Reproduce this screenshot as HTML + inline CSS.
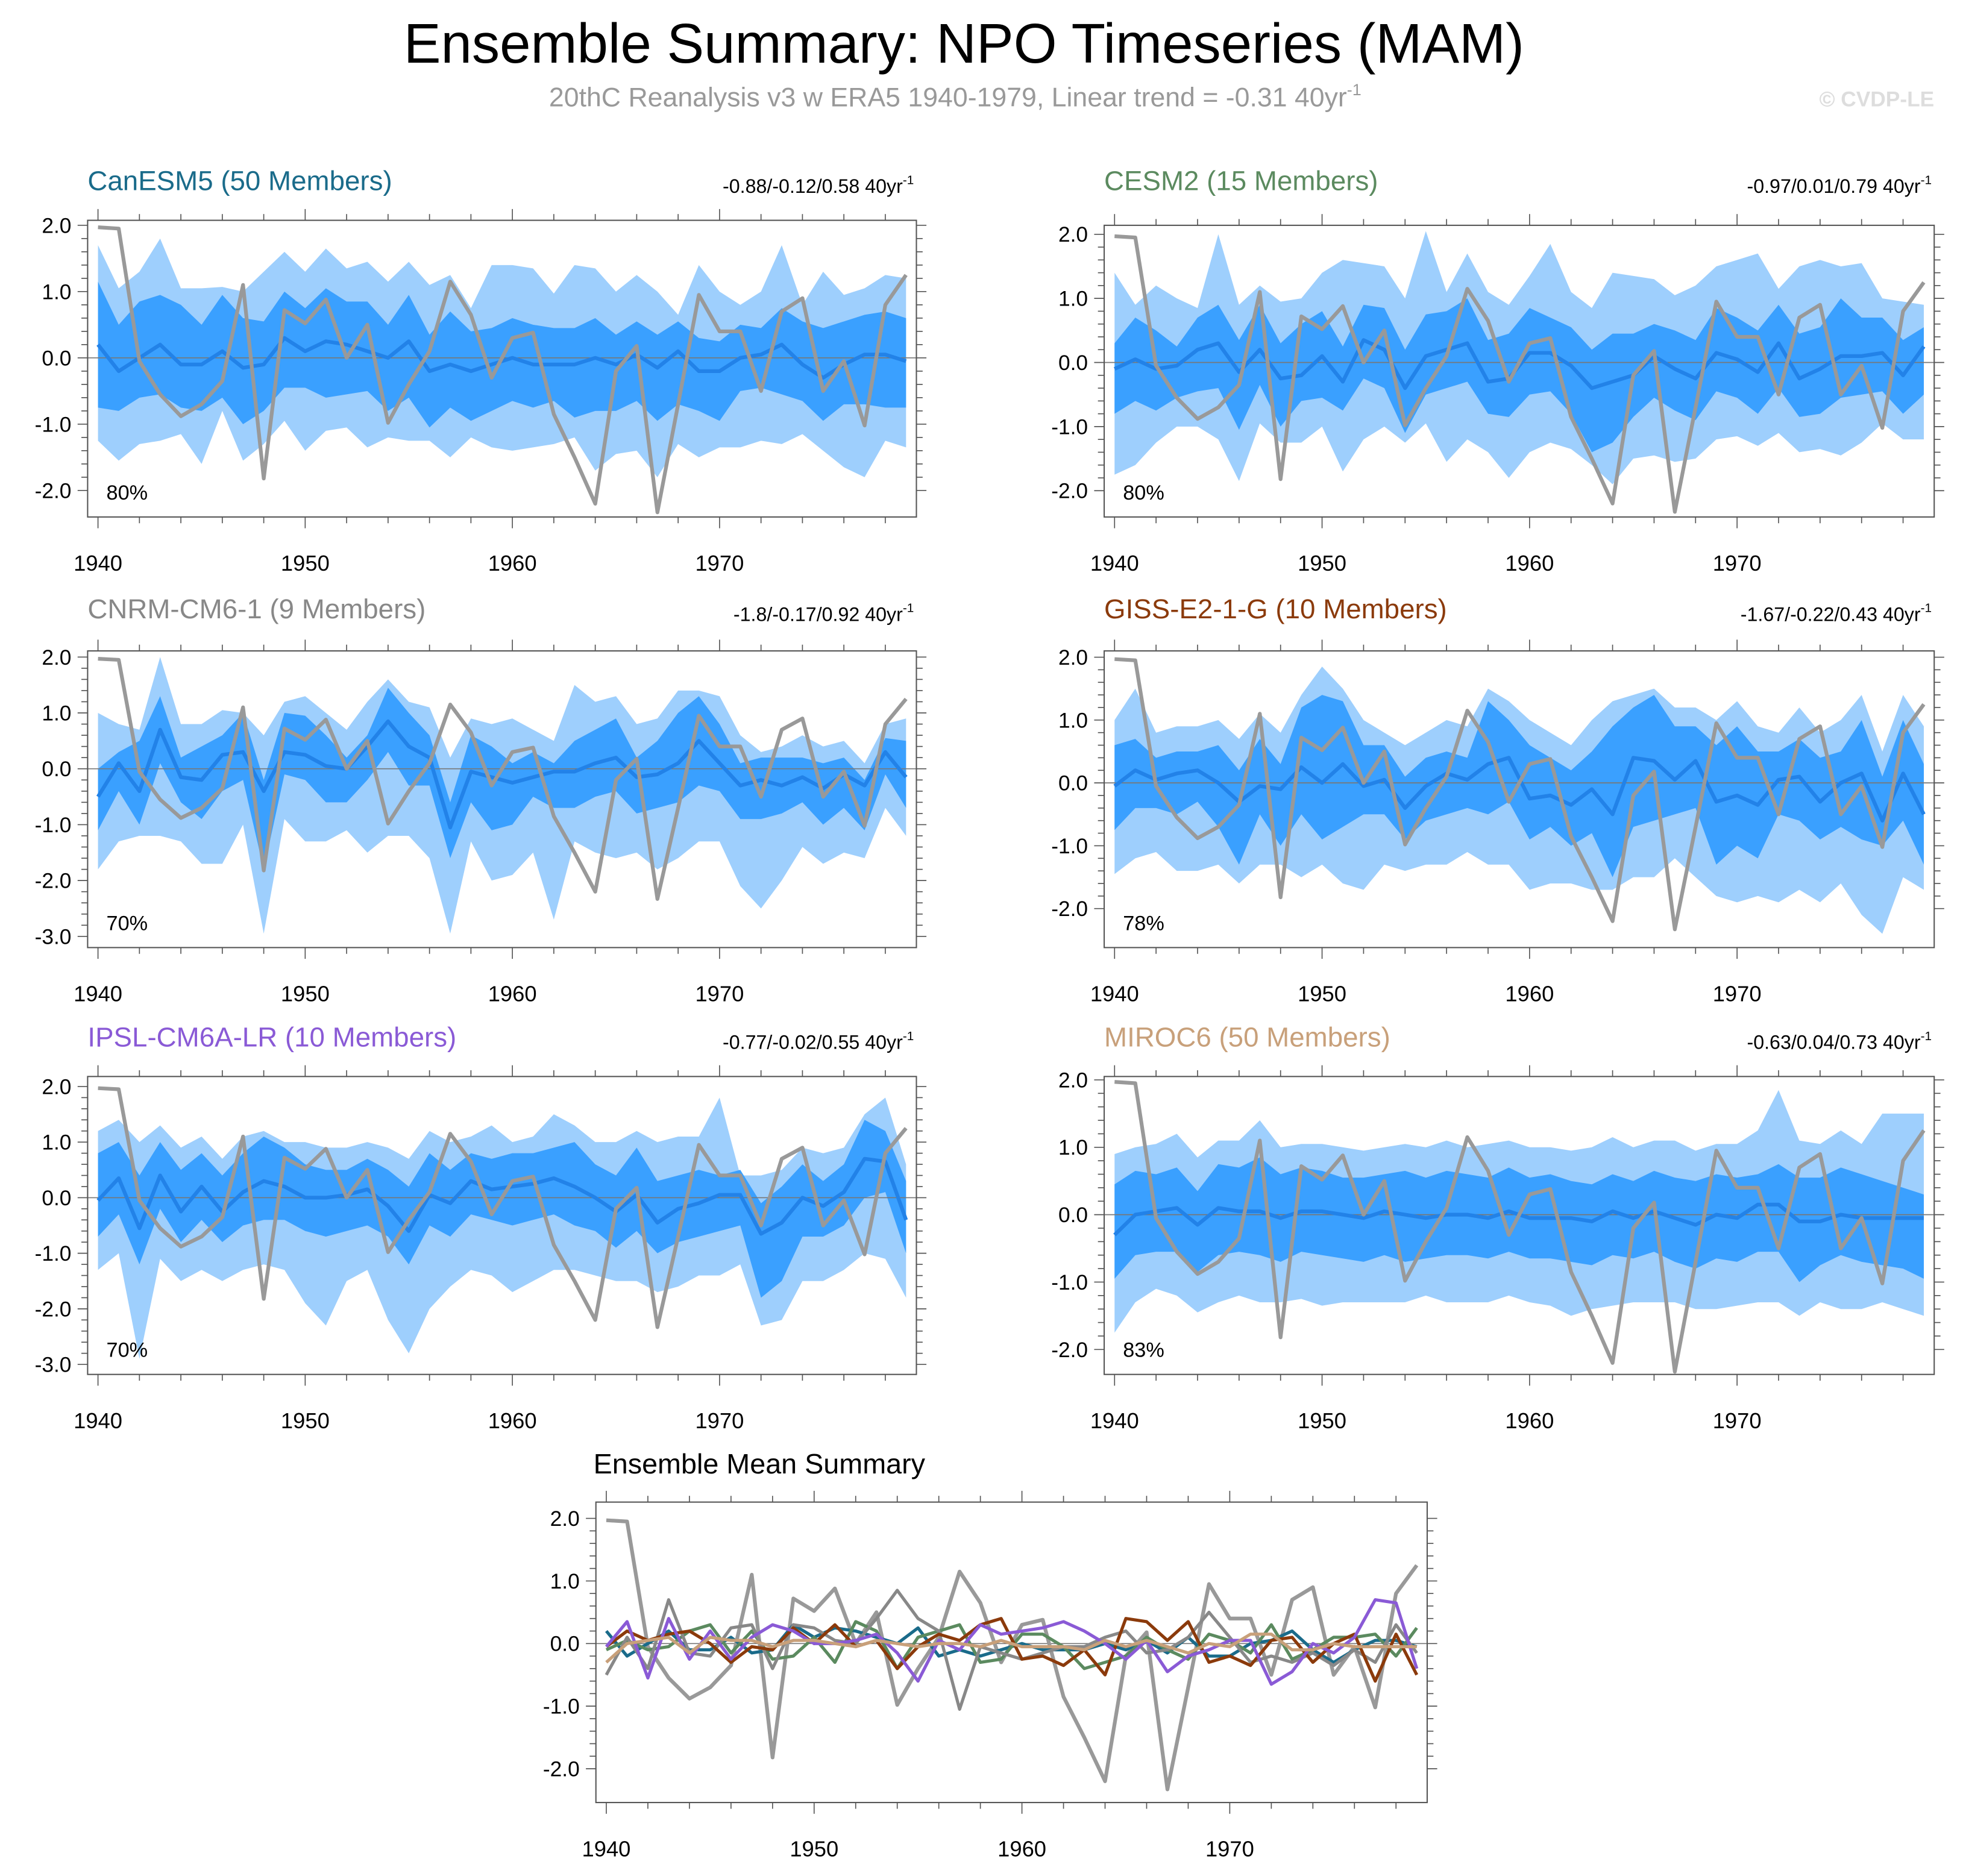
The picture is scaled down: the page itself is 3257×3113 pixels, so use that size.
<!DOCTYPE html>
<html><head><meta charset="utf-8"><style>
html,body{margin:0;padding:0;background:#fff;}
svg{display:block;font-family:"Liberation Sans",sans-serif;}
</style></head><body>
<svg id="chart" width="3257" height="3113" viewBox="0 0 1568 1498.7" preserveAspectRatio="none" xmlns="http://www.w3.org/2000/svg">
<rect width="1568" height="1499" fill="#fff"/>
<text x="770" y="50" font-size="44.5" text-anchor="middle" fill="#000">Ensemble Summary: NPO Timeseries (MAM)</text>
<text x="763" y="85" font-size="21.5" text-anchor="middle" fill="#999">20thC Reanalysis v3 w ERA5 1940-1979, Linear trend = -0.31 40yr<tspan dy="-9" font-size="13">-1</tspan></text>
<text x="1545" y="85" font-size="17" font-weight="bold" text-anchor="end" fill="#ddd">© CVDP-LE</text>
<g id="plots"></g>
</svg>
<script>
const years = [];
for (let y = 1940; y <= 1979; y++) years.push(y);
const obs = [1.97,1.95,-0.05,-0.55,-0.88,-0.7,-0.35,1.1,-1.82,0.72,0.52,0.88,0.0,0.5,-0.98,-0.4,0.1,1.15,0.65,-0.3,0.3,0.38,-0.85,-1.5,-2.2,-0.2,0.18,-2.33,-0.7,0.95,0.4,0.4,-0.5,0.7,0.9,-0.5,-0.05,-1.02,0.8,1.25];

const modelNames = ["CanESM5 (50 Members)","CESM2 (15 Members)","CNRM-CM6-1 (9 Members)","GISS-E2-1-G (10 Members)","IPSL-CM6A-LR (10 Members)","MIROC6 (50 Members)"];
const modelColors = ["#1a6b8a","#5b8a5f","#888888","#8b3a0b","#8a5ad6","#c8a07a"];
const trendTexts = ["-0.88/-0.12/0.58","-0.97/0.01/0.79","-1.8/-0.17/0.92","-1.67/-0.22/0.43","-0.77/-0.02/0.55","-0.63/0.04/0.73"];
const pctLabels = ["80%","80%","70%","78%","70%","83%"];

const mean1 = [0.2,-0.2,0,0.2,-0.1,-0.1,0.1,-0.15,-0.1,0.3,0.1,0.25,0.2,0.1,0,0.25,-0.2,-0.1,-0.2,-0.1,0,-0.1,-0.1,-0.1,0,-0.1,0.05,-0.15,0.1,-0.2,-0.2,0,0.05,0.2,-0.1,-0.3,-0.1,0.05,0.05,-0.05];
const p75_1 = [1.15,0.5,0.85,0.95,0.8,0.5,0.95,0.6,0.55,1.0,0.75,1.05,0.85,0.85,0.5,0.95,0.35,0.7,0.4,0.45,0.6,0.5,0.45,0.45,0.6,0.35,0.55,0.35,0.55,0.3,0.25,0.5,0.45,0.75,0.55,0.45,0.55,0.65,0.7,0.6];
const p25_1 = [-0.75,-0.8,-0.6,-0.55,-0.75,-0.8,-0.6,-1.0,-0.8,-0.45,-0.45,-0.6,-0.55,-0.5,-0.8,-0.6,-1.05,-0.75,-0.95,-0.8,-0.65,-0.75,-0.65,-0.9,-0.8,-0.8,-0.65,-0.95,-0.7,-0.8,-0.95,-0.5,-0.45,-0.55,-0.65,-0.95,-0.7,-0.7,-0.75,-0.75];
const p90_1 = [1.7,1.05,1.3,1.8,1.05,1.05,1.07,1.0,1.3,1.6,1.3,1.65,1.35,1.45,1.15,1.45,1.1,1.25,0.75,1.4,1.4,1.35,0.97,1.4,1.35,1.0,1.25,1.0,0.65,1.4,1.0,0.8,1.0,1.7,0.8,1.3,0.95,1.05,1.25,1.2];
const p10_1 = [-1.25,-1.55,-1.3,-1.25,-1.15,-1.6,-0.8,-1.55,-1.3,-0.95,-1.4,-1.1,-1.05,-1.35,-1.2,-1.25,-1.25,-1.5,-1.2,-1.35,-1.4,-1.35,-1.3,-1.2,-1.7,-1.45,-1.4,-1.8,-1.3,-1.5,-1.35,-1.35,-1.25,-1.3,-1.15,-1.4,-1.65,-1.8,-1.25,-1.35];

const mean2 = [-0.1,0.05,-0.1,-0.05,0.2,0.3,-0.15,0.2,-0.25,-0.2,0.1,-0.3,0.35,0.2,-0.4,0.1,0.2,0.3,-0.3,-0.25,0.15,0.15,-0.05,-0.4,-0.3,-0.2,0.1,-0.1,-0.25,0.15,0.05,-0.15,0.3,-0.25,-0.1,0.1,0.1,0.15,-0.2,0.25];
const p75_2 = [0.3,0.7,0.5,0.25,0.7,0.9,0.35,0.9,0.3,0.6,0.8,0.25,0.9,0.85,0.2,0.75,0.8,1.0,0.35,0.45,0.85,0.7,0.55,0.2,0.45,0.45,0.6,0.5,0.35,0.85,0.7,0.5,0.9,0.45,0.55,1.0,0.7,0.7,0.35,0.55];
const p25_2 = [-0.8,-0.6,-0.75,-0.55,-0.45,-0.4,-1.05,-0.35,-1.0,-0.6,-0.55,-0.75,-0.25,-0.4,-1.1,-0.5,-0.4,-0.3,-0.8,-0.85,-0.5,-0.45,-0.8,-1.4,-1.25,-0.85,-0.55,-0.75,-0.9,-0.45,-0.55,-0.8,-0.4,-0.85,-0.8,-0.55,-0.5,-0.45,-0.8,-0.5];
const p90_2 = [1.4,0.9,1.2,1.0,0.85,2.0,0.9,1.2,0.95,1.0,1.4,1.6,1.55,1.5,1.0,2.05,1.1,1.7,1.1,0.9,1.35,1.85,1.1,0.85,1.4,1.35,1.3,1.05,1.2,1.5,1.6,1.7,1.15,1.5,1.6,1.5,1.55,1.0,0.95,0.9];
const p10_2 = [-1.75,-1.6,-1.25,-1.0,-1.0,-1.2,-1.85,-0.95,-1.25,-1.25,-1.0,-1.7,-1.2,-1.0,-1.25,-0.95,-1.55,-1.2,-1.4,-1.8,-1.4,-1.25,-1.35,-1.6,-1.9,-1.5,-1.45,-1.55,-1.5,-1.2,-1.15,-1.3,-1.1,-1.4,-1.35,-1.45,-1.25,-0.95,-1.2,-1.2];

const mean3 = [-0.5,0.1,-0.4,0.7,-0.15,-0.2,0.25,0.3,-0.4,0.3,0.25,0.05,0,0.4,0.85,0.4,0.2,-1.05,-0.05,-0.15,-0.25,-0.15,-0.05,-0.05,0.1,0.2,-0.15,-0.1,0.1,0.5,0.1,-0.3,-0.2,-0.3,-0.15,-0.35,-0.1,-0.3,0.3,-0.15];
const p75_3 = [0,0.3,0.5,1.3,0.2,0.4,0.6,1.0,-0.2,1.0,0.95,0.6,0.2,0.6,1.45,1.0,0.6,-0.6,0.6,0.4,0.1,0.3,0.1,0.5,0.7,0.9,0.2,0.5,1.0,1.3,0.8,0.1,0.2,0.2,0.2,0.1,0.2,-0.2,0.55,0.5];
const p25_3 = [-1.1,-0.4,-1.0,0.1,-0.6,-0.9,-0.4,-0.2,-1.8,-0.1,-0.2,-0.6,-0.6,-0.2,0.3,-0.3,-0.3,-1.6,-0.6,-1.1,-1.0,-0.5,-0.7,-0.7,-0.5,-0.4,-0.8,-0.7,-0.6,-0.3,-0.4,-0.9,-0.9,-0.8,-0.6,-1.0,-0.7,-1.1,-0.1,-0.7];
const p90_3 = [1.0,0.8,0.7,2.0,0.8,0.8,1.05,1.0,0.6,1.2,1.3,1.0,0.7,1.2,1.6,1.2,1.1,0.2,0.9,0.8,0.9,0.7,0.5,1.5,1.2,1.3,0.8,0.9,1.4,1.4,1.3,0.6,0.3,0.4,0.6,0.4,0.5,0.1,0.8,0.9];
const p10_3 = [-1.8,-1.3,-1.2,-1.2,-1.3,-1.7,-1.7,-1.0,-2.95,-0.9,-1.3,-1.3,-1.1,-1.5,-1.2,-1.2,-1.6,-2.95,-1.3,-2.0,-1.9,-1.5,-2.7,-1.3,-1.5,-1.6,-1.5,-1.8,-1.6,-1.3,-1.3,-2.1,-2.5,-2.0,-1.4,-1.7,-1.5,-1.6,-0.7,-1.2];

const mean4 = [-0.05,0.2,0.05,0.15,0.2,0,-0.3,-0.05,-0.1,0.25,0,0.3,-0.05,0.05,-0.4,-0.05,0.15,0.05,0.3,0.4,-0.25,-0.2,-0.35,-0.1,-0.5,0.4,0.35,0.05,0.35,-0.3,-0.2,-0.35,0.05,0.1,-0.3,0,0.15,-0.6,0.15,-0.5];
const p75_4 = [0.6,0.7,0.4,0.5,0.5,0.6,0.2,0.7,0.3,1.2,1.4,1.3,0.6,0.6,0.1,0.4,0.5,0.4,1.3,1.0,0.6,0.4,0.2,0.5,0.9,1.2,1.4,0.9,0.9,0.6,0.9,0.5,0.5,0.7,0.4,0.5,1.0,0.1,1.0,0.3];
const p25_4 = [-0.75,-0.4,-0.4,-0.5,-0.3,-0.7,-1.3,-0.5,-1.0,-0.5,-0.9,-0.7,-0.5,-0.5,-0.9,-0.6,-0.5,-0.4,-0.5,-0.3,-0.9,-0.7,-1.0,-0.8,-1.5,-0.7,-0.6,-0.5,-0.4,-1.3,-1.0,-1.2,-0.5,-0.6,-0.9,-0.7,-0.9,-1.0,-0.6,-1.3];
const p90_4 = [1.0,1.5,0.8,0.9,0.9,1.0,0.7,1.1,0.8,1.4,1.85,1.5,1.0,0.8,0.6,0.8,1.0,0.9,1.5,1.3,1.0,0.8,0.6,1.0,1.3,1.4,1.5,1.2,1.2,1.0,1.3,0.9,0.8,1.2,0.8,1.0,1.4,0.5,1.4,0.9];
const p10_4 = [-1.45,-1.2,-1.1,-1.4,-1.4,-1.3,-1.6,-1.3,-1.3,-1.5,-1.3,-1.6,-1.7,-1.3,-1.4,-1.3,-1.3,-1.1,-1.3,-1.3,-1.7,-1.6,-1.6,-1.7,-1.7,-1.5,-1.5,-1.2,-1.5,-1.8,-1.9,-1.8,-1.9,-1.7,-1.9,-1.6,-2.1,-2.4,-1.5,-1.7];

const mean5 = [-0.05,0.35,-0.55,0.4,-0.25,0.2,-0.25,0.1,0.3,0.2,0,0,0.05,0.15,-0.15,-0.6,0.05,-0.1,0.3,0.15,0.2,0.25,0.35,0.2,0,-0.25,0.05,-0.45,-0.2,-0.1,0.05,0.05,-0.65,-0.45,0,-0.15,0.1,0.7,0.65,-0.4];
const p75_5 = [0.8,1.0,0.4,1.0,0.5,0.8,0.4,0.8,1.1,0.9,0.6,0.5,0.5,0.7,0.5,0.2,0.8,0.5,0.8,0.7,0.8,0.8,0.9,1.0,0.6,0.4,0.9,0.3,0.4,0.5,0.4,0.5,-0.1,0.2,0.6,0.3,0.6,1.4,1.2,0.3];
const p25_5 = [-0.7,-0.3,-1.2,-0.2,-0.8,-0.4,-0.8,-0.5,-0.4,-0.4,-0.6,-0.7,-0.6,-0.5,-0.7,-1.2,-0.5,-0.7,-0.3,-0.4,-0.5,-0.4,-0.3,-0.5,-0.6,-0.9,-0.6,-1.0,-0.8,-0.7,-0.6,-0.5,-1.8,-1.5,-0.7,-0.7,-0.5,0,0.1,-1.0];
const p90_5 = [1.2,1.4,1.0,1.3,0.9,1.1,0.7,1.1,1.2,1.0,1.0,0.9,0.9,1.0,0.9,0.7,1.2,1.0,1.1,1.3,1.0,1.1,1.5,1.3,1.0,1.0,1.2,1.0,1.1,1.1,1.8,0.4,0.4,0.5,0.9,0.8,0.9,1.5,1.8,0.6];
const p10_5 = [-1.3,-1.0,-2.9,-1.1,-1.5,-1.3,-1.5,-1.3,-1.2,-1.3,-1.9,-2.3,-1.5,-1.3,-2.2,-2.8,-2.0,-1.6,-1.3,-1.4,-1.7,-1.5,-1.3,-1.3,-1.4,-1.5,-1.5,-1.7,-1.6,-1.4,-1.4,-1.2,-2.3,-2.2,-1.5,-1.5,-1.3,-1.0,-1.1,-1.8];

const mean6 = [-0.3,0,0.05,0.1,-0.15,0.1,0.05,0.05,-0.05,0.05,0.05,0,-0.05,0.05,0,-0.05,0,0,-0.05,0.05,-0.05,-0.05,-0.05,-0.1,0.05,-0.05,0.05,-0.05,-0.15,0,-0.05,0.15,0.15,-0.1,-0.1,0,-0.05,-0.05,-0.05,-0.05];
const p75_6 = [0.45,0.65,0.6,0.7,0.35,0.75,0.7,0.85,0.6,0.7,0.65,0.55,0.55,0.6,0.65,0.55,0.65,0.6,0.55,0.7,0.55,0.6,0.5,0.45,0.6,0.5,0.65,0.55,0.5,0.6,0.55,0.6,0.75,0.55,0.55,0.7,0.6,0.5,0.4,0.3];
const p25_6 = [-0.95,-0.6,-0.55,-0.55,-0.85,-0.6,-0.55,-0.6,-0.7,-0.55,-0.6,-0.65,-0.7,-0.6,-0.7,-0.65,-0.6,-0.6,-0.65,-0.55,-0.65,-0.65,-0.7,-0.75,-0.6,-0.65,-0.55,-0.7,-0.8,-0.65,-0.7,-0.55,-0.55,-1.0,-0.75,-0.6,-0.7,-0.75,-0.8,-0.95];
const p90_6 = [0.9,1.0,1.05,1.2,0.85,1.1,1.1,1.4,1.0,1.05,1.05,1.0,0.95,1.0,1.05,1.0,1.1,1.0,1.05,1.1,1.0,1.0,0.95,1.0,1.15,1.0,1.1,1.1,0.95,1.05,1.05,1.25,1.85,1.1,1.05,1.25,1.05,1.5,1.5,1.5];
const p10_6 = [-1.75,-1.3,-1.1,-1.2,-1.45,-1.3,-1.2,-1.3,-1.3,-1.25,-1.35,-1.3,-1.3,-1.3,-1.3,-1.2,-1.3,-1.3,-1.3,-1.2,-1.3,-1.35,-1.5,-1.4,-1.35,-1.3,-1.3,-1.3,-1.4,-1.4,-1.35,-1.3,-1.3,-1.5,-1.3,-1.4,-1.4,-1.3,-1.4,-1.5];

const xTickLabels = [1940,1950,1960,1970];

const NS = "http://www.w3.org/2000/svg";
const root = document.getElementById('plots');
function mk(tag, attrs, parent) {
  const e = document.createElementNS(NS, tag);
  for (const k in attrs) e.setAttribute(k, attrs[k]);
  parent.appendChild(e);
  return e;
}

const panels = [
  {x0:70,x1:732,y0:176,y1:413,vt:2.075,vb:-2.4,ymin:-2,ty:152},
  {x0:882,x1:1545,y0:180,y1:413,vt:2.14,vb:-2.41,ymin:-2,ty:152},
  {x0:70,x1:732,y0:520,y1:757,vt:2.11,vb:-3.2,ymin:-3,ty:494},
  {x0:882,x1:1545,y0:520,y1:757,vt:2.1,vb:-2.62,ymin:-2,ty:494},
  {x0:70,x1:732,y0:860,y1:1098,vt:2.18,vb:-3.18,ymin:-3,ty:836},
  {x0:882,x1:1545,y0:860,y1:1098,vt:2.05,vb:-2.37,ymin:-2,ty:836}
];
const bands = [
  [mean1,p25_1,p75_1,p10_1,p90_1],[mean2,p25_2,p75_2,p10_2,p90_2],[mean3,p25_3,p75_3,p10_3,p90_3],
  [mean4,p25_4,p75_4,p10_4,p90_4],[mean5,p25_5,p75_5,p10_5,p90_5],[mean6,p25_6,p75_6,p10_6,p90_6]
];

function axes(p) {
  const xs = v => p.x0 + (v - 1939.5) / 40 * (p.x1 - p.x0);
  const ys = v => p.y0 + (p.vt - v) / (p.vt - p.vb) * (p.y1 - p.y0);
  return {xs, ys};
}

function drawFrame(p, g, xs, ys) {
  const z = mk('line', {x1:p.x0, x2:p.x1, y1:ys(0), y2:ys(0), stroke:'#777', 'stroke-width':0.8}, g);
  
  
  const fr = mk('rect', {x:p.x0, y:p.y0, width:p.x1-p.x0, height:p.y1-p.y0, fill:'none', stroke:'#555', 'stroke-width':1}, g);
  
  
  for (let k = Math.round(p.ymin*5); k <= 10; k++) {
    const v = k / 5, y = ys(v), major = (k % 5 === 0);
    const L = major ? 8 : 5;
    mk('line', {x1:p.x0-L, x2:p.x0, y1:y, y2:y, stroke:'#555', 'stroke-width':0.8}, g);
    mk('line', {x1:p.x1, x2:p.x1+L, y1:y, y2:y, stroke:'#555', 'stroke-width':0.8}, g);
    if (major) {
      const t = mk('text', {x:p.x0-13, y:y+6, 'font-size':17, 'text-anchor':'end', fill:'#000'}, g);
      t.textContent = v.toFixed(1);
      
      
    }
  }
  for (let yr = 1940; yr <= 1978; yr += 2) {
    const x = xs(yr), major = (yr % 10 === 0);
    const L = major ? 9 : 5;
    mk('line', {x1:x, x2:x, y1:p.y1, y2:p.y1+L, stroke:'#555', 'stroke-width':0.8}, g);
    mk('line', {x1:x, x2:x, y1:p.y0-L, y2:p.y0, stroke:'#555', 'stroke-width':0.8}, g);
  }
  xTickLabels.forEach(yr => {
    const t = mk('text', {x:xs(yr), y:p.y1+43, 'font-size':17.5, 'text-anchor':'middle', fill:'#000'}, g);
    t.textContent = yr;
    
    
  });
}

function lineD(arr, xs, ys) {
  return arr.map((v, i) => (i ? 'L' : 'M') + xs(years[i]).toFixed(2) + ',' + ys(v).toFixed(2)).join('');
}
function bandD(lo, hi, xs, ys) {
  let d = hi.map((v, i) => (i ? 'L' : 'M') + xs(years[i]).toFixed(2) + ',' + ys(v).toFixed(2)).join('');
  for (let i = lo.length - 1; i >= 0; i--) d += 'L' + xs(years[i]).toFixed(2) + ',' + ys(lo[i]).toFixed(2);
  return d + 'Z';
}

panels.forEach((p, idx) => {
  const g = mk('g', {}, root);
  
  
  const {xs, ys} = axes(p);
  const [m, p25, p75, p10, p90] = bands[idx];
  const b1 = mk('path', {d:bandD(p10, p90, xs, ys), fill:'#9ecffd'}, g);
  
  
  const b2 = mk('path', {d:bandD(p25, p75, xs, ys), fill:'#3aa0ff'}, g);
  
  
  drawFrame(p, g, xs, ys);
  const ml = mk('path', {d:lineD(m, xs, ys), fill:'none', stroke:'#2282e8', 'stroke-width':3, 'stroke-linejoin':'round'}, g);
  
  
  const ol = mk('path', {d:lineD(obs, xs, ys), fill:'none', stroke:'#999', 'stroke-width':3, 'stroke-linejoin':'round'}, g);
  
  
  const tt = mk('text', {x:p.x0, y:p.ty, 'font-size':22, fill:modelColors[idx]}, g);
  tt.textContent = modelNames[idx];
  
  
  const tr = mk('text', {x:p.x1-2, y:p.ty+2, 'font-size':15.5, 'text-anchor':'end', fill:'#000'}, g);
  tr.innerHTML = trendTexts[idx] + ' 40yr<tspan dy="-7" font-size="10">-1</tspan>';
  
  
  const pc = mk('text', {x:p.x0+15, y:p.y1-14, 'font-size':16.5, fill:'#000'}, g);
  pc.textContent = pctLabels[idx];
  
  
});

const sp = {x0:476,x1:1140,y0:1200,y1:1440,vt:2.26,vb:-2.54,ymin:-2};
const sg = mk('g', {}, root);


const sa = axes(sp);
drawFrame(sp, sg, sa.xs, sa.ys);
const so = mk('path', {d:lineD(obs, sa.xs, sa.ys), fill:'none', stroke:'#999', 'stroke-width':3, 'stroke-linejoin':'round'}, sg);


bands.forEach((b, i) => {
  const l = mk('path', {d:lineD(b[0], sa.xs, sa.ys), fill:'none', stroke:modelColors[i], 'stroke-width':2.5, 'stroke-linejoin':'round'}, sg);
  
  
});
const st = mk('text', {x:474, y:1177, 'font-size':22.5, fill:'#000'}, sg);
st.textContent = 'Ensemble Mean Summary';


</script>
</body></html>
